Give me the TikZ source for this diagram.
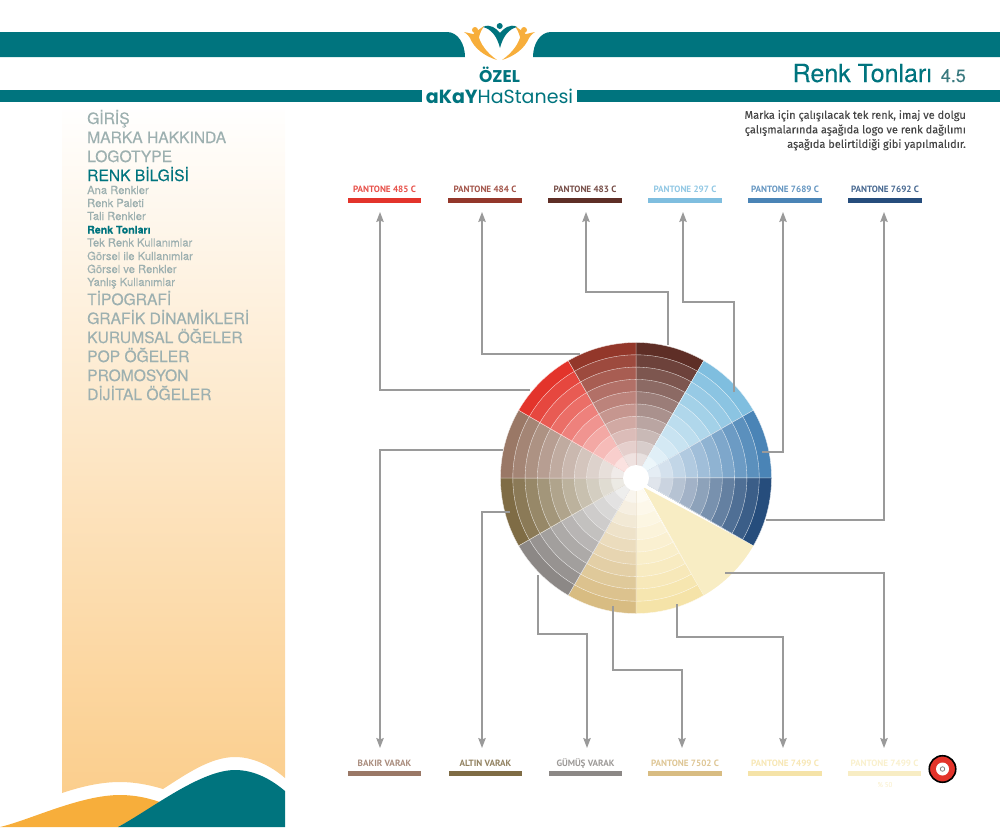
\documentclass[tikz,border=0pt]{standalone}
\usepackage{fontspec}
\setmainfont{Liberation Sans}
\newfontfamily\menufont[FakeBold=0.15]{TeX Gyre Heros}
\newfontfamily\tagfont{PT Sans}
\newfontfamily\bodyfont[FakeBold=0.2]{Fira Sans}
\newfontfamily\logofont{Poppins}
\usetikzlibrary{arrows.meta}
\newcommand{\sizept}[1]{\fontsize{#1}{#1}\selectfont}
\definecolor{petrol}{HTML}{00747E}
\definecolor{amber}{HTML}{F7AE3B}
\definecolor{sand}{HTML}{FBCE8D}
\definecolor{mist}{HTML}{9DB0B0}
\definecolor{leadgray}{HTML}{9A9A9A}
\definecolor{c485}{HTML}{E3342B}
\definecolor{c484}{HTML}{93372A}
\definecolor{c483}{HTML}{5E2E26}
\definecolor{c297}{HTML}{7FBEDF}
\definecolor{c7689}{HTML}{4A84B6}
\definecolor{c7692}{HTML}{264D7C}
\definecolor{c7499}{HTML}{F8EDC4}
\definecolor{c7499b}{HTML}{F5E3A8}
\definecolor{c7502}{HTML}{D8BC82}
\definecolor{cgumus}{HTML}{8C8886}
\definecolor{caltin}{HTML}{7F6C45}
\definecolor{cbakir}{HTML}{9A7866}
\begin{document}
\begin{tikzpicture}[x=1pt,y=-1pt]
    \tikzset{
        menubig/.style={anchor=base west, inner sep=0, font=\menufont\sizept{15.6}, text=mist},
        menusmall/.style={anchor=base west, inner sep=0, font=\menufont\sizept{11.2}, text=mist},
        swatch/.style={minimum width=73.5pt, minimum height=5pt, inner sep=0},
        tag/.style={anchor=base, inner sep=0, font=\tagfont\bfseries\sizept{9.1}},
        lead/.style={draw=leadgray, line width=1.3pt, -{Stealth[length=10pt,width=7.5pt,inset=1.5pt]}},
        figure/.pic={
            \fill[amber] (464,32) .. controls (470,33) and (474,35) .. (478,34)
                .. controls (480,44) and (487,53) .. (497,60)
                .. controls (484,56) and (474,48) .. (470,38)
                .. controls (469,36) and (467,34) .. (464,32) -- cycle;
            \fill[amber] (484,26) .. controls (480,32) and (477,40) .. (479,48)
                .. controls (474,42) and (473,36) .. (474,33) -- cycle;
            \fill[amber] (475,30) circle (3);
        }
    }
    \useasboundingbox (0,0) rectangle (1000,827);
    % header bands
    \fill[petrol] (0,32) -- (447,32) .. controls (458,32) and (465,44) .. (465,57) -- (0,57) -- cycle;
    \fill[petrol] (1000,32) -- (551,32) .. controls (540,32) and (533,44) .. (533,57) -- (1000,57) -- cycle;
    \fill[petrol] (0,90) rectangle (422,102);
    \fill[petrol] (577,90) rectangle (1000,102);
    % logo
    \pic {figure};
    \pic[xshift=999pt,xscale=-1] {figure};
    \fill[petrol] (483,27) .. controls (490,23) and (497,29) .. (500,33)
        .. controls (503,29) and (510,23) .. (517,27)
        .. controls (509,29) and (503,36) .. (500,48)
        .. controls (497,36) and (491,29) .. (483,27) -- cycle;
    \fill[petrol] (499.7,26) circle (3);
    \node[anchor=base, inner sep=0, text=petrol, font=\logofont\bfseries\sizept{17}] (ozel) at (499.5,82) {ÖZEL};
    \node[inner sep=0, text=petrol, font=\logofont\sizept{19}] (akay) at (499.5,96.5) {{\bfseries aKaY}HaStanesi};
    % title
    \node[anchor=base east, inner sep=0, text=petrol, font=\menufont\sizept{25}] (title) at (932,82) {Renk Tonları};
    \node[anchor=base east, inner sep=0, text=petrol!55!gray, font=\menufont\sizept{18}] (chapter) at (966,82) {4.5};
    \node[anchor=north east, inner sep=0, align=right, text=black!72, font=\bodyfont\sizept{11}] (intro) at (966,110)
        {Marka için çalışılacak tek renk, imaj ve dolgu\\[2.2pt]
         çalışmalarında aşağıda logo ve renk dağılımı\\[2.2pt]
         aşağıda belirtildiği gibi yapılmalıdır.};
    % sidebar
    \shade[top color=white, bottom color=sand] (62,102) -- (285,102) -- (285,778)
        .. controls (270,765) and (252,757) .. (235,757)
        .. controls (210,757) and (185,775) .. (163,789)
        .. controls (150,785) and (135,782) .. (120,782)
        .. controls (100,782) and (80,787) .. (62,793) -- cycle;
    \fill[amber] (0,827) .. controls (30,820) and (80,795) .. (120,795)
        .. controls (135,795) and (150,798) .. (165,804) -- (118,827) -- cycle;
    \fill[petrol] (118,827) .. controls (150,810) and (200,770) .. (235,770)
        .. controls (255,770) and (272,780) .. (285,791) -- (285,827) -- cycle;
    \foreach \t/\y [count=\i] in {GİRİŞ/124, MARKA HAKKINDA/143, LOGOTYPE/162, TİPOGRAFİ/305,
        GRAFİK DİNAMİKLERİ/324, KURUMSAL ÖĞELER/343, POP ÖĞELER/362, PROMOSYON/381, DİJİTAL ÖĞELER/400}{
        \node[menubig] (big\i) at (87,\y) {\t};
    }
    \node[menubig, text=petrol] (bignow) at (87,181) {RENK BİLGİSİ};
    \foreach \t/\y [count=\i] in {Ana Renkler/194, Renk Paleti/207, Tali Renkler/220, Tek Renk Kullanımlar/246.5,
        Görsel ile Kullanımlar/260, Görsel ve Renkler/273, Yanlış Kullanımlar/286}{
        \node[menusmall] (small\i) at (87,\y) {\t};
    }
    \node[menusmall, text=petrol, font=\menufont\bfseries\sizept{10.6}] (smallnow) at (87,233.5) {Renk Tonları};
    % wheel
    \begin{scope}[shift={(636,478)},x=1pt,y=1pt]
        \foreach \a/\c in {60/c483, 30/c297, 0/c7689, -30/c7692, -90/c7499b, -120/c7502,
            -150/cgumus, -180/caltin, 150/cbakir, 120/c485, 90/c484}{
            \foreach \i in {0,...,9}{
                \pgfmathsetmacro{\r}{135.5-12.3*\i}
                \pgfmathsetmacro{\p}{100-9.5*\i}
                \filldraw[fill=\c!\p!white, draw=white!85!\c, line width=0.35pt]
                    (0,0) -- (\a:\r) arc[start angle=\a, end angle=\a+30, radius=\r] -- cycle;
            }
        }
        \fill[c7499] (7,-9) -- (-30:135.5) arc[start angle=-30, end angle=-60, radius=135.5] -- cycle;
        \fill[white] (0,0) circle (13);
    \end{scope}
    % top swatches
    \foreach \n/\x/\c/\t in {t485/384.5/c485/PANTONE 485 C, t484/485/c484/PANTONE 484 C, t483/585/c483/PANTONE 483 C,
        t297/685/c297/PANTONE 297 C, t7689/785/c7689/PANTONE 7689 C, t7692/885/c7692/PANTONE 7692 C}{
        \node[swatch, fill=\c] (\n) at (\x,200) {};
        \node[tag, text=\c!85!white] (\n l) at (\x,192) {\t};
    }
    % bottom swatches
    \foreach \n/\x/\c/\t in {bbakir/384.5/cbakir/BAKIR VARAK, baltin/485.5/caltin/ALTIN VARAK, bgumus/585.5/cgumus/GÜMÜŞ VARAK,
        b7502/685/c7502/PANTONE 7502 C, b7499/785/c7499b/PANTONE 7499 C, bpale/884.5/c7499/PANTONE 7499 C}{
        \node[swatch, fill=\c] (\n) at (\x,773.5) {};
        \node[tag, text=\c!85!white] (\n l) at (\x,766) {\t};
    }
    \node[tag, text=c7499, font=\tagfont\sizept{7}] (pct) at (885,787.5) {\% 50};
    % target mark
    \node[circle, draw=black, line width=1.6pt, fill=c485, minimum size=26.5pt, inner sep=0] (mark) at (942.5,769) {};
    \node[circle, fill=white, minimum size=13pt, inner sep=0] (markin) at (mark) {};
    \node[circle, draw=gray, line width=0.8pt, minimum size=4.5pt, inner sep=0] (markdot) at (mark) {};
    % ends of the leads
    \foreach \n/\x/\y in {s485/530/390, e485/380/212, s484/580/354, e484/482/212, s483/668/345, e483/586/212,
        s297/734/392, e297/683/212, s7689/762/452, e7689/783/212, s7692/766/520, e7692/884/212,
        sbakir/503/450, ebakir/380/748, saltin/510/512, ealtin/482/748, sgumus/538/575, egumus/587/748,
        s7502/613/606, e7502/682/748, s7499/677/604, e7499/783/748, spale/725/573, epale/884/748}{
        \coordinate (\n) at (\x,\y);
    }
    \foreach \x in {485,484,7689,7692,bakir,altin,pale}{
        \draw[lead] (s\x) -| (e\x);
    }
    \draw[lead] (s483) -- ++(0,-53) -| (e483);
    \draw[lead] (s297) -- ++(0,-90) -| (e297);
    \draw[lead] (sgumus) -- ++(0,59) -| (egumus);
    \draw[lead] (s7502) -- ++(0,64) -| (e7502);
    \draw[lead] (s7499) -- ++(0,33) -| (e7499);
\end{tikzpicture}
\end{document}
